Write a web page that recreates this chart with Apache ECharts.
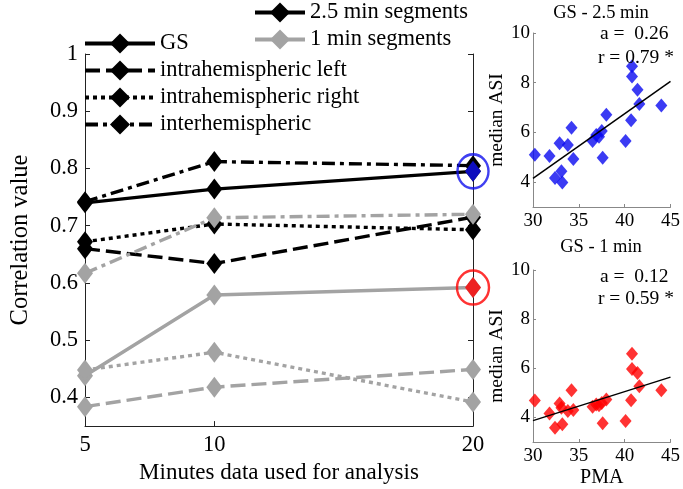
<!DOCTYPE html>
<html><head><meta charset="utf-8">
<script src="https://cdn.jsdelivr.net/npm/echarts@6/dist/echarts.min.js"></script>
<style>html,body{margin:0;padding:0;background:#fff}#c{width:683px;height:489px}</style>
</head><body><div id="c"></div>
<script>
// ---- main chart data ----
const minutes = [5, 10, 20];
const xTicks = [5, 10, 20];
const yTicks = [0.4, 0.5, 0.6, 0.7, 0.8, 0.9, 1];
const gs25    = [0.740, 0.764, 0.795];
const left25  = [0.660, 0.634, 0.715];
const right25 = [0.672, 0.703, 0.693];
const inter25 = [0.742, 0.812, 0.805];
const gs1     = [0.438, 0.579, 0.592];
const left1   = [0.384, 0.418, 0.449];
const right1  = [0.448, 0.479, 0.392];
const inter1  = [0.617, 0.714, 0.720];
// ---- scatter data ----
const pma   = [30.2, 31.8, 32.4, 32.9, 33.1, 33.2, 33.8, 34.2, 34.4, 36.5, 36.9, 37.5, 37.6, 38.0, 40.1, 40.7, 40.8, 40.8, 41.4, 41.6, 44.0, 37.2];
const asi25 = [5.10, 5.05, 4.17, 5.56, 4.44, 3.99, 5.49, 6.19, 4.93, 5.66, 5.90, 6.06, 4.98, 6.71, 5.66, 6.49, 8.66, 8.25, 7.72, 7.14, 7.08, 5.83];
const asi1  = [4.69, 4.16, 3.58, 4.57, 4.39, 3.72, 4.26, 5.11, 4.30, 4.43, 4.53, 4.59, 3.76, 4.73, 3.85, 4.70, 6.59, 5.97, 5.81, 5.27, 5.11, 4.50];
const scatterYTicks = [4, 6, 8, 10];
const fit25 = {slope: 0.26, at30: 4.15};
const fit1  = {slope: 0.118, at30: 3.87};
const fitX = [30, 45];
const txt25 = ['GS - 2.5 min', 'a =  0.26', 'r = 0.79 *'];
const txt1  = ['GS - 1 min', 'a =  0.12', 'r = 0.59 *'];

const FONT = 'Liberation Serif';
const BLACK = '#000000', GREY = '#a3a3a3';
const pts = arr => minutes.map((m, i) => [m, arr[i]]);
const fitPts = f => fitX.map(x => [x, f.at30 + f.slope * (x - 30)]);
const DASH = [15, 6], DOT = [4, 4], DASHDOT = [13, 5, 4, 5];
const sym = [16, 21];
const LW = 3.4;

function lineSeries(name, arr, color, type, z) {
  return {type: 'line', name, data: pts(arr), xAxisIndex: 0, yAxisIndex: 0,
    symbol: 'diamond', symbolSize: sym, z,
    lineStyle: {color, width: LW, type}, itemStyle: {color}, emphasis: {disabled: true}};
}

const chart = echarts.init(document.getElementById('c'), null, {renderer: 'canvas'});

const scatterAxisX = (gi, name) => ({type: 'value', gridIndex: gi, min: 30, max: 45, interval: 5,
  name, nameLocation: 'middle', nameGap: 26, nameTextStyle: {fontFamily: FONT, fontSize: 20, color: '#000'},
  axisLine: {lineStyle: {color: '#888', width: 1}}, axisTick: {inside: true, length: 3, lineStyle: {color: '#888'}},
  axisLabel: {fontFamily: FONT, fontSize: 19, color: '#000', margin: 5}, splitLine: {show: false}});
const scatterAxisY = (gi) => ({type: 'value', gridIndex: gi, min: 3, max: 10,
  name: 'median ASI', nameLocation: 'middle', nameGap: 25, nameTextStyle: {fontFamily: FONT, fontSize: 19.5, color: '#000'},
  axisLine: {show: true, lineStyle: {color: '#888', width: 1}},
  axisTick: {inside: true, length: 3, lineStyle: {color: '#888'}, customValues: scatterYTicks},
  axisLabel: {fontFamily: FONT, fontSize: 19, color: '#000', margin: 3, customValues: scatterYTicks}, splitLine: {show: false}});

const txt = (t, x, y, size, align) => ({type: 'text', z: 10,
  style: {text: t, x, y, align, verticalAlign: 'middle', font: size + 'px "' + FONT + '"', fill: '#000'}});

const option = {
  animation: false,
  backgroundColor: '#fff',
  grid: [
    {left: 65, right: 210, top: 54, bottom: 60},
    {left: 533, right: 10, top: 33, bottom: 282},
    {left: 533, right: 10, top: 270, bottom: 45}
  ],
  xAxis: [
    {type: 'value', gridIndex: 0, min: 5, max: 20,
      name: 'Minutes data used for analysis', nameLocation: 'middle', nameGap: 33,
      nameTextStyle: {fontFamily: FONT, fontSize: 23, color: '#000'},
      axisLine: {lineStyle: {color: '#222', width: 1}},
      axisTick: {inside: true, length: 5, lineStyle: {color: '#222'}, customValues: xTicks},
      axisLabel: {fontFamily: FONT, fontSize: 22.5, color: '#000', margin: 7, customValues: xTicks},
      splitLine: {show: false}},
    scatterAxisX(1, ''),
    scatterAxisX(2, 'PMA')
  ],
  yAxis: [
    {type: 'value', gridIndex: 0, min: 0.35, max: 1,
      name: 'Correlation value', nameLocation: 'middle', nameGap: 52,
      nameTextStyle: {fontFamily: FONT, fontSize: 24.5, color: '#000'},
      axisLine: {show: true, lineStyle: {color: '#222', width: 1}},
      axisTick: {inside: true, length: 5, lineStyle: {color: '#222'}, customValues: yTicks},
      axisLabel: {fontFamily: FONT, fontSize: 22.5, color: '#000', margin: 7, customValues: yTicks},
      splitLine: {show: false}},
    {type: 'value', gridIndex: 0, min: 0.35, max: 1, position: 'right',
      axisLine: {show: true, lineStyle: {color: '#222', width: 1}},
      axisTick: {inside: true, length: 5, lineStyle: {color: '#222'}, customValues: yTicks},
      axisLabel: {show: false}, splitLine: {show: false}},
    scatterAxisY(1),
    scatterAxisY(2)
  ],
  legend: [
    {data: ['GS', 'intrahemispheric left', 'intrahemispheric right', 'interhemispheric'],
      orient: 'vertical', left: 83, top: 32, itemWidth: 70, itemHeight: 25, itemGap: 4, padding: 0,
      selectedMode: false, lineStyle: {width: 4},
      textStyle: {fontFamily: FONT, fontSize: 22.5, color: '#000'}},
    {data: ['2.5 min segments', '1 min segments'],
      orient: 'vertical', left: 253, top: 1, itemWidth: 50, itemHeight: 25, itemGap: 4, padding: 0,
      selectedMode: false, lineStyle: {width: 4},
      textStyle: {fontFamily: FONT, fontSize: 22.5, color: '#000'}}
  ],
  graphic: [
    txt(txt25[0], 601, 13, 18.5, 'center'),
    txt(txt25[1], 600, 34, 19.5, 'left'),
    txt(txt25[2], 598, 58, 19.5, 'left'),
    txt(txt1[0], 601, 247, 18.5, 'center'),
    txt(txt1[1], 600, 277, 19.5, 'left'),
    txt(txt1[2], 598, 299, 19.5, 'left')
  ],
  series: [
    lineSeries('GS', gs25, BLACK, 'solid', 2),
    lineSeries('intrahemispheric left', left25, BLACK, DASH, 2),
    lineSeries('intrahemispheric right', right25, BLACK, DOT, 2),
    lineSeries('interhemispheric', inter25, BLACK, DASHDOT, 2),
    lineSeries('GS 1', gs1, GREY, 'solid', 3),
    lineSeries('left 1', left1, GREY, DASH, 3),
    lineSeries('right 1', right1, GREY, DOT, 3),
    lineSeries('inter 1', inter1, GREY, DASHDOT, 3),
    {type: 'line', name: '2.5 min segments', data: [], symbol: 'diamond', lineStyle: {color: BLACK, width: LW}, itemStyle: {color: BLACK}},
    {type: 'line', name: '1 min segments', data: [], symbol: 'diamond', lineStyle: {color: GREY, width: LW}, itemStyle: {color: GREY}},
    // highlighted points
    {type: 'scatter', data: [[minutes[2], gs25[2]]], symbol: 'diamond', symbolSize: sym, itemStyle: {color: '#1010ee'}, z: 5, silent: true},
    {type: 'scatter', data: [[minutes[2], gs25[2]]], symbol: 'circle', symbolSize: [31, 34], itemStyle: {color: 'rgba(0,0,0,0)', borderColor: '#1010ee', borderWidth: 2.5}, z: 6, silent: true},
    {type: 'scatter', data: [[minutes[2], gs1[2]]], symbol: 'diamond', symbolSize: sym, itemStyle: {color: '#ff0000'}, z: 5, silent: true},
    {type: 'scatter', data: [[minutes[2], gs1[2]]], symbol: 'circle', symbolSize: [32, 34], itemStyle: {color: 'rgba(0,0,0,0)', borderColor: '#ff0000', borderWidth: 2.5}, z: 6, silent: true},
    // scatter panels
    {type: 'scatter', xAxisIndex: 1, yAxisIndex: 2, data: pma.map((p, i) => [p, asi25[i]]), symbol: 'diamond', symbolSize: [12, 14], itemStyle: {color: '#0a0af0'}, z: 2},
    {type: 'line', xAxisIndex: 1, yAxisIndex: 2, data: fitPts(fit25), symbol: 'none', lineStyle: {color: '#000', width: 1.5}, z: 3},
    {type: 'scatter', xAxisIndex: 2, yAxisIndex: 3, data: pma.map((p, i) => [p, asi1[i]]), symbol: 'diamond', symbolSize: [12, 14], itemStyle: {color: '#ff0000'}, z: 2},
    {type: 'line', xAxisIndex: 2, yAxisIndex: 3, data: fitPts(fit1), symbol: 'none', lineStyle: {color: '#000', width: 1.5}, z: 3}
  ]
};
chart.setOption(option);
</script></body></html>
